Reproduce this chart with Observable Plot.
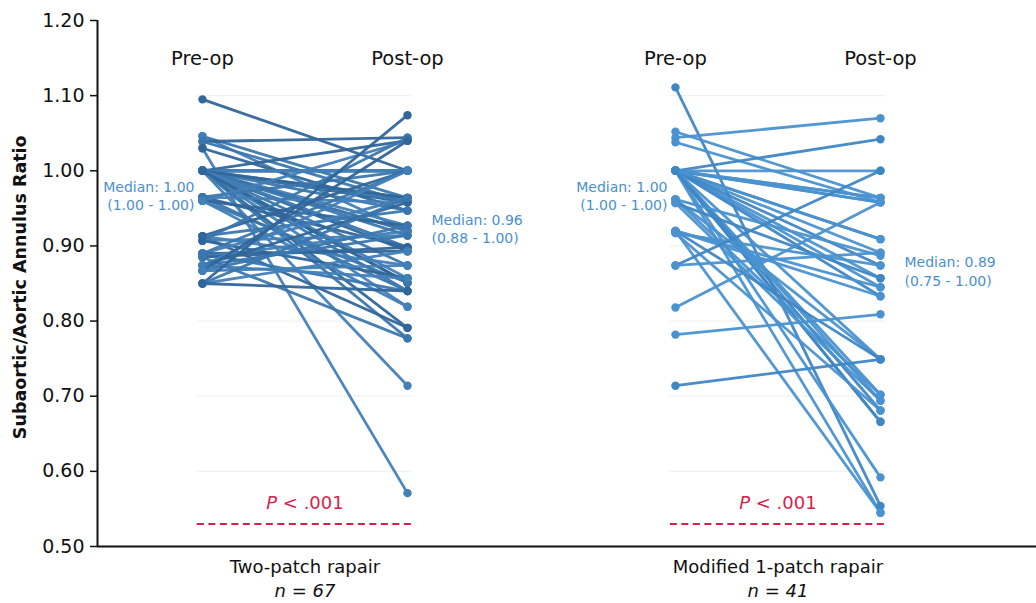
<!DOCTYPE html>
<html>
<head>
<meta charset="utf-8">
<script src="https://cdn.jsdelivr.net/npm/d3@7"></script>
<script src="https://cdn.jsdelivr.net/npm/@observablehq/plot@0.6"></script>
<style>
  html, body { margin: 0; padding: 0; background: #fff; }
  #chart svg { display: block; }
</style>
</head>
<body>
<div id="chart"></div>
<script>
// ---------- data ----------
const groups = ["Two-patch rapair", "Modified 1-patch rapair"];
const groupN = ["n = 67", "n = 41"];
const timepoints = ["Pre-op", "Post-op"];
const yTicks = [0.5, 0.6, 0.7, 0.8, 0.9, 1.0, 1.1, 1.2];

// Two-patch repair: paired pre-op / post-op ratios
const twoPatchPre = [
  1.095,
  1.046, 1.046,
  1.039, 1.039,
  1.03, 1.03,
  1.00, 1.00, 1.00, 1.00, 1.00, 1.00, 1.00, 1.00, 1.00, 1.00, 1.00, 1.00, 1.00, 1.00,
  1.00, 1.00, 1.00, 1.00, 1.00, 1.00, 1.00, 1.00, 1.00, 1.00, 1.00, 1.00, 1.00,
  0.965, 0.965, 0.965, 0.965,
  0.96, 0.96, 0.96, 0.96,
  0.913, 0.913, 0.913, 0.913,
  0.907, 0.907, 0.907,
  0.89, 0.89, 0.89, 0.89,
  0.885, 0.885, 0.885,
  0.874, 0.874, 0.874, 0.874,
  0.867, 0.867, 0.867,
  0.85, 0.85, 0.85, 0.85
];
const twoPatchPost = [
  1.00,
  0.964, 0.92,
  1.044, 0.958,
  0.571, 0.947,
  1.00, 1.00, 1.00, 1.00, 0.964, 0.958, 0.947, 0.927, 0.92, 0.914, 0.898, 0.893, 0.874, 0.857,
  0.851, 0.84, 0.819, 0.791, 0.777, 0.714, 1.04, 0.96, 1.00, 0.964, 0.92, 0.898, 0.851,
  1.00, 0.958, 0.898, 0.84,
  1.04, 0.927, 0.851, 0.819,
  1.00, 0.947, 0.874, 0.791,
  1.044, 0.914, 0.857,
  1.00, 0.964, 0.893, 0.84,
  0.92, 0.898, 0.777,
  1.00, 0.958, 0.914, 0.857,
  1.04, 0.927, 0.874,
  1.074, 0.964, 0.893, 0.84
];

// Modified 1-patch repair: paired pre-op / post-op ratios
const onePatchPre = [
  1.111, 1.052, 1.044, 1.038,
  1.00, 1.00, 1.00, 1.00, 1.00, 1.00, 1.00, 1.00, 1.00, 1.00, 1.00,
  1.00, 1.00, 1.00, 1.00, 1.00, 1.00, 1.00, 1.00, 1.00, 1.00,
  0.962, 0.962, 0.962,
  0.957, 0.957,
  0.92, 0.92, 0.92, 0.92,
  0.917, 0.917,
  0.874, 0.874,
  0.818, 0.782, 0.714
];
const onePatchPost = [
  0.554, 0.964, 1.07, 0.958,
  1.042, 1.00, 0.964, 0.958, 0.909, 0.891, 0.857, 0.845, 0.833, 0.749, 0.702,
  0.694, 0.681, 0.666, 0.592, 0.545, 0.874, 0.958, 0.964, 0.909, 0.666,
  0.887, 0.749, 0.702,
  0.857, 0.694,
  0.845, 0.833, 0.749, 0.545,
  0.874, 0.681,
  1.00, 0.891,
  0.958, 0.809, 0.749
];

// medians (IQR) per group and time point
const medianText = [
  "Median: 1.00\n(1.00 - 1.00)",
  "Median: 0.96\n(0.88 - 1.00)",
  "Median: 1.00\n(1.00 - 1.00)",
  "Median: 0.89\n(0.75 - 1.00)"
];
const medianY = [0.968, 0.924, 0.968, 0.867];
const pValues = ["P < .001", "P < .001"];

// ---------- layout helpers ----------
const gap = 1.307;                       // spacing between groups (in time-step units)
const xOf = (g, t) => g * (1 + gap) + t; // g: group index, t: 0 pre / 1 post

const segs = [];
const pts = [];
[[twoPatchPre, twoPatchPost], [onePatchPre, onePatchPost]].forEach(([pre, post], g) => {
  pre.forEach((v, i) => {
    segs.push({g, i, x1: xOf(g, 0), y1: v, x2: xOf(g, 1), y2: post[i]});
    pts.push({g, i, x: xOf(g, 0), y: v});
    pts.push({g, i, x: xOf(g, 1), y: post[i]});
  });
});

const colorOf = d => d.g === 0
  ? (d.i % 3 === 0 ? "#30669a" : (d.i % 3 === 1 ? "#3b77ad" : "#4280b8"))
  : (d.i % 4 === 0 ? "#3f86c4" : "#4a92d0");

const headers = [];
groups.forEach((_, g) => timepoints.forEach((t, k) => headers.push({x: xOf(g, k), t})));

const medians = medianText.map((s, j) => ({
  x: xOf(Math.floor(j / 2), j % 2), y: medianY[j], s, post: j % 2 === 1
}));

const gridRows = [];
groups.forEach((_, g) => yTicks.filter(v => v > 0.5 && v < 1.2).forEach(v =>
  gridRows.push({y: v, x1: xOf(g, 0) - 0.025, x2: xOf(g, 1) + 0.025})));

const pRows = pValues.map((p, g) => ({g, p, x: xOf(g, 0.5), x1: xOf(g, 0) - 0.025, x2: xOf(g, 1) + 0.04}));

const groupRows = groups.map((name, g) => ({name, n: groupN[g], x: xOf(g, 0.5)}));

const xMin = -0.512, xMax = 4.068;
const red = "#d81e4a";
const FONT = "'DejaVu Sans', 'Liberation Sans', Arial, sans-serif";

const chart = Plot.plot({
  width: 1036,
  height: 603,
  marginLeft: 97,
  marginRight: 0,
  marginTop: 20,
  marginBottom: 57,
  style: {fontFamily: FONT, fontSize: "18px", color: "#111", background: "#fff"},
  x: {domain: [xMin, xMax], axis: null},
  y: {domain: [0.5, 1.2]},
  marks: [
    Plot.ruleY(gridRows, {y: "y", x1: "x1", x2: "x2", stroke: "#f1f1f1", strokeWidth: 1.2}),
    Plot.axisY({ticks: yTicks, tickFormat: d3.format(".2f"), tickSize: 7, tickPadding: 6,
      fontSize: 19, label: null, stroke: "#111", strokeWidth: 1.5}),
    Plot.text(["Subaortic/Aortic Annulus Ratio"], {frameAnchor: "left", y: 0.845, dx: -77,
      rotate: -90, textAnchor: "middle", fontWeight: "bold", fontSize: 17.5, fill: "#111"}),
    Plot.ruleX([xMin], {y1: 0.5, y2: 1.2, stroke: "#111", strokeWidth: 2}),
    Plot.ruleY([0.5], {x1: xMin, x2: xMax, stroke: "#111", strokeWidth: 2}),
    // patient lines
    Plot.link(segs, {x1: "x1", y1: "y1", x2: "x2", y2: "y2", stroke: colorOf,
      strokeWidth: 2.8, strokeOpacity: 0.95}),
    Plot.dot(pts, {x: "x", y: "y", r: 4.2, fill: colorOf, stroke: "none"}),
    // headers
    Plot.text(headers, {x: "x", y: 1.149, text: "t", fontSize: 19.5, fill: "#111"}),
    // medians
    Plot.text(medians.filter(d => !d.post), {x: "x", y: "y", text: "s", textAnchor: "end",
      dx: -8, fontSize: 14, lineHeight: 1.3, fill: "#4a90d0"}),
    Plot.text(medians.filter(d => d.post), {x: "x", y: "y", text: "s", textAnchor: "start",
      dx: 24, fontSize: 14, lineHeight: 1.3, fill: "#4a90d0"}),
    // P values
    Plot.ruleY(pRows, {y: 0.53, x1: "x1", x2: "x2", stroke: red, strokeWidth: 2, strokeDasharray: "7,4.5"}),
    Plot.text(pRows, {x: "x", y: 0.557, text: d => "P < .001", fontSize: 18, fill: red}),
    // group labels
    Plot.text(groupRows, {x: "x", y: 0.5, dy: 21, text: "name", fontSize: 18, fill: "#111"}),
    Plot.text(groupRows, {x: "x", y: 0.5, dy: 45, text: "n", fontSize: 18, fontStyle: "italic", fill: "#111"})
  ]
});

// italicise the "P" in the P-value labels
d3.select(chart).selectAll("text").each(function() {
  const el = d3.select(this);
  if (el.text() === "P < .001" && el.selectAll("tspan").empty()) {
    el.text(null);
    el.append("tspan").attr("font-style", "italic").text("P");
    el.append("tspan").text(" < .001");
  }
});

document.getElementById("chart").appendChild(chart);
</script>
</body>
</html>
